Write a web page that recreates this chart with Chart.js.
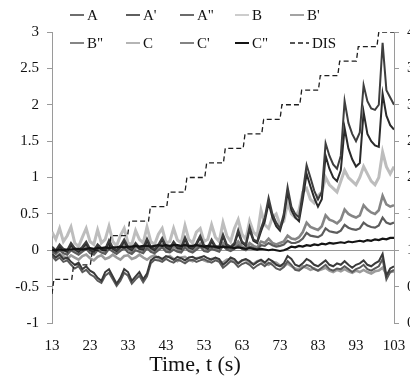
<!DOCTYPE html>
<html>
<head>
<meta charset="utf-8">
<script src="https://cdn.jsdelivr.net/npm/chart.js@4.4.0/dist/chart.umd.min.js"></script>
<style>
  html, body { margin: 0; padding: 0; background: #fff; overflow: hidden; }
  #wrap { position: relative; width: 440px; height: 380px; }
</style>
</head>
<body>
<div id="wrap"><canvas id="strainChart" width="440" height="380"></canvas></div>
<script>
// sample times (s)
const timeSec = [
  13, 14, 15, 16, 17, 18, 19, 20, 21, 22, 23, 24, 25, 26, 27, 28, 29, 30, 31, 32,
  33, 34, 35, 36, 37, 38, 39, 40, 41, 42, 43, 44, 45, 46, 47, 48, 49, 50, 51, 52,
  53, 54, 55, 56, 57, 58, 59, 60, 61, 62, 63, 64, 65, 66, 67, 68, 69, 70, 71, 72,
  73, 74, 75, 76, 77, 78, 79, 80, 81, 82, 83, 84, 85, 86, 87, 88, 89, 90, 91, 92,
  93, 94, 95, 96, 97, 98, 99, 100, 101, 102, 103
];
const timeTicks = [13, 23, 33, 43, 53, 63, 73, 83, 93, 103];

const seriesA = [
  0.05, 0.0, 0.08, 0.02, 0.0, 0.1, 0.03, 0.0, 0.05, 0.12, 0.02, 0.0, 0.08, 0.03, 0.02, 0.14, 0.04, 0.0, 0.06, 0.15,
  0.05, 0.02, 0.1, 0.04, 0.03, 0.16, 0.05, 0.02, 0.08, 0.17, 0.06, 0.03, 0.12, 0.05, 0.04, 0.18, 0.06, 0.03, 0.1, 0.2,
  0.07, 0.04, 0.15, 0.06, 0.05, 0.22, 0.08, 0.05, 0.1, 0.28, 0.12, 0.08, 0.32, 0.15, 0.12, 0.3, 0.45, 0.72, 0.5, 0.38,
  0.3, 0.5, 0.87, 0.6, 0.5, 0.45, 0.8, 1.17, 1.0, 0.82, 0.7, 0.8, 1.47, 1.3, 1.18, 1.12, 1.3, 2.05, 1.75, 1.6,
  1.5, 1.62, 2.27, 2.05, 1.95, 1.93, 2.0, 2.85, 2.2, 2.1, 2.0
];
const seriesA1 = [
  0.02, -0.02, 0.05, 0.0, -0.02, 0.07, 0.01, -0.02, 0.03, 0.09, 0.0, -0.02, 0.06, 0.01, 0.0, 0.11, 0.02, -0.01, 0.04, 0.12,
  0.03, 0.0, 0.08, 0.02, 0.01, 0.13, 0.03, 0.0, 0.06, 0.14, 0.04, 0.01, 0.1, 0.03, 0.02, 0.15, 0.04, 0.02, 0.08, 0.17,
  0.05, 0.02, 0.12, 0.04, 0.03, 0.19, 0.06, 0.04, 0.08, 0.24, 0.1, 0.06, 0.28, 0.13, 0.1, 0.26, 0.4, 0.65, 0.45, 0.33,
  0.27, 0.45, 0.8, 0.55, 0.45, 0.4, 0.7, 1.05, 0.88, 0.72, 0.6, 0.7, 1.3, 1.12, 1.0, 0.95, 1.1, 1.68, 1.4, 1.25,
  1.15, 1.2, 1.9, 1.6, 1.5, 1.44, 1.42, 2.15, 1.85, 1.72, 1.66
];
const seriesA2 = [
  -0.05, -0.1, -0.06, -0.12, -0.1, -0.16, -0.2, -0.17, -0.26, -0.22, -0.28, -0.31, -0.38, -0.42, -0.3, -0.26, -0.36, -0.46, -0.38, -0.26,
  -0.3, -0.42, -0.36, -0.3, -0.4, -0.32, -0.14, -0.1, -0.09, -0.12, -0.08, -0.1, -0.13, -0.09, -0.11, -0.14, -0.1, -0.09, -0.12, -0.1,
  -0.08, -0.11, -0.13, -0.1, -0.12, -0.2, -0.16, -0.1, -0.12, -0.18, -0.14, -0.12, -0.15, -0.2, -0.16, -0.13, -0.17, -0.12, -0.15, -0.2,
  -0.22, -0.18, -0.08, -0.12, -0.2, -0.22, -0.18, -0.12, -0.15, -0.2, -0.22, -0.18, -0.14, -0.2, -0.22, -0.18, -0.2, -0.15, -0.2, -0.24,
  -0.2, -0.18, -0.14, -0.2, -0.22, -0.18, -0.15, -0.05, -0.35, -0.25, -0.22
];
const seriesB = [
  0.25, 0.15, 0.3, 0.12, 0.2, 0.32, 0.1, 0.05, 0.18, 0.3, 0.12, 0.08, 0.28, 0.1, 0.15, 0.33, 0.12, 0.06, 0.2, 0.3,
  0.1, 0.08, 0.27, 0.15, 0.1, 0.32, 0.12, 0.08, 0.22, 0.3, 0.1, 0.12, 0.3, 0.14, 0.1, 0.34, 0.15, 0.1, 0.25, 0.3,
  0.12, 0.15, 0.35, 0.18, 0.12, 0.38, 0.2, 0.12, 0.3, 0.42, 0.22, 0.15, 0.4, 0.25, 0.2, 0.55, 0.35, 0.3, 0.45, 0.5,
  0.35, 0.4, 0.65, 0.5, 0.45, 0.55, 0.8, 0.85, 0.7, 0.65, 0.75, 0.8, 1.0, 0.9, 0.85, 0.8, 0.95, 1.1, 1.0, 0.95,
  0.9, 1.0, 1.15, 1.05, 0.95, 0.9, 1.0, 1.35, 1.15, 1.05, 1.15
];
const seriesB1 = [
  0.0, -0.03, 0.04, 0.0, -0.02, 0.05, 0.01, -0.03, 0.02, 0.06, 0.0, -0.03, 0.04, 0.01, -0.02, 0.06, 0.02, -0.02, 0.03, 0.07,
  0.01, -0.02, 0.05, 0.02, -0.01, 0.07, 0.02, -0.01, 0.03, 0.08, 0.02, 0.0, 0.05, 0.02, 0.0, 0.08, 0.03, 0.0, 0.04, 0.09,
  0.03, 0.01, 0.06, 0.03, 0.01, 0.1, 0.04, 0.02, 0.05, 0.12, 0.05, 0.03, 0.1, 0.06, 0.04, 0.12, 0.1, 0.16, 0.1, 0.08,
  0.1, 0.12, 0.2, 0.16, 0.15, 0.18, 0.25, 0.38, 0.32, 0.3, 0.28, 0.33, 0.48, 0.42, 0.4, 0.37, 0.42, 0.56, 0.5, 0.47,
  0.45, 0.48, 0.62, 0.56, 0.52, 0.5, 0.55, 0.75, 0.63, 0.6, 0.62
];
const seriesB2 = [
  -0.02, -0.05, 0.0, -0.04, -0.06, 0.0, -0.03, -0.06, -0.02, 0.02, -0.04, -0.06, 0.0, -0.03, -0.05, 0.02, -0.02, -0.05, -0.01, 0.03,
  -0.03, -0.05, 0.0, -0.02, -0.04, 0.03, -0.02, -0.04, 0.0, 0.04, -0.02, -0.03, 0.01, -0.02, -0.03, 0.04, -0.01, -0.03, 0.01, 0.05,
  -0.01, -0.02, 0.02, 0.0, -0.02, 0.06, 0.01, -0.01, 0.02, 0.07, 0.02, 0.0, 0.05, 0.03, 0.01, 0.07, 0.06, 0.1, 0.07, 0.05,
  0.06, 0.08, 0.13, 0.1, 0.1, 0.12, 0.16, 0.24, 0.2, 0.19, 0.18, 0.21, 0.3, 0.26, 0.25, 0.24, 0.27, 0.35, 0.31, 0.29,
  0.28, 0.3, 0.38, 0.34, 0.32, 0.31, 0.34, 0.45, 0.38, 0.36, 0.38
];
const seriesC = [
  -0.06, -0.1, -0.05, -0.08, -0.12, -0.07, -0.1, -0.13, -0.08, -0.06, -0.11, -0.14, -0.09, -0.07, -0.12, -0.1, -0.06, -0.1, -0.13, -0.08,
  -0.07, -0.12, -0.1, -0.06, -0.1, -0.13, -0.09, -0.07, -0.11, -0.14, -0.1, -0.08, -0.12, -0.15, -0.1, -0.09, -0.13, -0.15, -0.11, -0.1,
  -0.14, -0.16, -0.12, -0.11, -0.15, -0.17, -0.13, -0.12, -0.16, -0.18, -0.14, -0.13, -0.17, -0.19, -0.15, -0.14, -0.18, -0.2, -0.16, -0.17,
  -0.21, -0.22, -0.18, -0.22, -0.25, -0.26, -0.22, -0.24, -0.27, -0.25, -0.28, -0.26, -0.24, -0.28, -0.3, -0.27, -0.29, -0.26, -0.29, -0.31,
  -0.28, -0.3, -0.27, -0.3, -0.32, -0.29, -0.28, -0.24, -0.33, -0.3, -0.29
];
const seriesC1 = [
  -0.08, -0.14, -0.1, -0.16, -0.14, -0.2, -0.25, -0.22, -0.3, -0.27, -0.33, -0.36, -0.42, -0.45, -0.35, -0.31, -0.4, -0.49, -0.42, -0.31,
  -0.35, -0.46, -0.4, -0.35, -0.44, -0.36, -0.18, -0.13, -0.14, -0.16, -0.12, -0.15, -0.17, -0.13, -0.15, -0.18, -0.14, -0.13, -0.16, -0.14,
  -0.12, -0.15, -0.17, -0.14, -0.16, -0.24, -0.2, -0.15, -0.17, -0.23, -0.19, -0.17, -0.2, -0.25, -0.21, -0.18, -0.22, -0.17, -0.2, -0.25,
  -0.27, -0.23, -0.15, -0.2, -0.27, -0.28, -0.24, -0.2, -0.22, -0.26, -0.28, -0.24, -0.2, -0.26, -0.28, -0.25, -0.26, -0.22, -0.26, -0.3,
  -0.26, -0.24, -0.2, -0.26, -0.28, -0.25, -0.22, -0.12, -0.4, -0.3, -0.27
];
const seriesC2 = [
  0.0, 0.0, 0.01, 0.0, 0.01, 0.01, 0.02, 0.02, 0.01, 0.02, 0.03, 0.02, 0.03, 0.03, 0.04, 0.03, 0.04, 0.04, 0.05, 0.04,
  0.05, 0.05, 0.06, 0.05, 0.06, 0.06, 0.05, 0.06, 0.07, 0.06, 0.07, 0.06, 0.07, 0.07, 0.06, 0.07, 0.06, 0.06, 0.07, 0.06,
  0.05, 0.06, 0.05, 0.05, 0.04, 0.05, 0.04, 0.04, 0.03, 0.04, 0.03, 0.02, 0.03, 0.02, 0.01, 0.02, 0.01, 0.0, 0.01, 0.0,
  -0.01, 0.0, 0.02, 0.05, 0.04, 0.06, 0.05, 0.07, 0.06, 0.08, 0.07, 0.09, 0.08, 0.1, 0.09, 0.1, 0.11, 0.1, 0.12, 0.11,
  0.12, 0.13, 0.12, 0.14, 0.13, 0.15, 0.14, 0.16, 0.15, 0.17, 0.17
];

// displacement steps (right axis): riser start times and plateau levels
const disRiseStart = [13.0, 18.2, 23.1, 28.0, 32.9, 38.4, 43.2, 48.0, 53.2, 58.1, 63.3, 68.2, 73.0, 78.2, 83.1, 88.2, 93.1, 98.5];
const disLevels = [0.4, 0.6, 0.8, 1.0, 1.2, 1.4, 1.6, 1.8, 2.0, 2.2, 2.4, 2.6, 2.8, 3.0, 3.2, 3.4, 3.6, 3.8, 4.0];

const serifFont = '"Liberation Serif", "Times New Roman", serif';

function toPoints(values) {
    return values.map((v, i) => ({ x: timeSec[i], y: v }));
}

function disPoints() {
    const pts = [];
    disRiseStart.forEach((t, i) => {
        pts.push({ x: t, y: disLevels[i] });
        pts.push({ x: t + 0.5, y: disLevels[i + 1] });
    });
    pts.push({ x: 103, y: disLevels[disLevels.length - 1] });
    return pts;
}

function line(label, values, color, width, order) {
    return {
        label: label,
        data: toPoints(values),
        borderColor: color,
        backgroundColor: color,
        borderWidth: width,
        pointRadius: 0,
        tension: 0,
        yAxisID: 'y',
        order: order
    };
}

const datasets = [
    line('A', seriesA, '#3e3e3e', 2, 1),
    line("A'", seriesA1, '#2a2a2a', 2, 1),
    line('A"', seriesA2, '#3a3a3a', 2, 2),
    line('B', seriesB, '#bdbdbd', 3, 6),
    line("B'", seriesB1, '#858585', 2.6, 5),
    line('B"', seriesB2, '#5c5c5c', 2.2, 4),
    line('C', seriesC, '#9c9c9c', 2.6, 5),
    line("C'", seriesC1, '#5a5a5a', 2, 3),
    line('C"', seriesC2, '#141414', 2.2, 0),
    {
        label: 'DIS',
        data: disPoints(),
        borderColor: '#1e1e1e',
        borderWidth: 1.3,
        borderDash: [5, 3],
        pointRadius: 0,
        tension: 0,
        yAxisID: 'y2',
        order: 0
    }
];

// two-row legend and the axis title, drawn straight onto the canvas
const legendCols = [70, 126, 180, 235, 290];
const legendRows = [15, 43];

const overlayPlugin = {
    id: 'overlay',
    afterDraw(chart) {
        const ctx = chart.ctx;
        ctx.save();
        ctx.font = '15px ' + serifFont;
        ctx.fillStyle = '#111';
        ctx.textBaseline = 'middle';
        chart.data.datasets.forEach((ds, i) => {
            const x = legendCols[i % 5];
            const y = legendRows[Math.floor(i / 5)];
            const len = ds.borderDash ? 19 : 14;
            ctx.beginPath();
            ctx.strokeStyle = ds.borderColor;
            ctx.lineWidth = ds.label === 'C"' ? 2 : 1.5;
            ctx.setLineDash(ds.borderDash || []);
            ctx.moveTo(x, y);
            ctx.lineTo(x + len, y);
            ctx.stroke();
            ctx.setLineDash([]);
            ctx.fillText(ds.label, x + len + 3, y + 1);
        });
        ctx.font = '22px ' + serifFont;
        ctx.textAlign = 'center';
        ctx.fillText('Time, t (s)', 195, 365);
        ctx.restore();
    }
};

new Chart(document.getElementById('strainChart'), {
    type: 'line',
    data: { datasets: datasets },
    options: {
        responsive: false,
        animation: false,
        layout: { padding: { top: 32, left: 0, right: 0, bottom: 0 } },
        plugins: { legend: { display: false }, tooltip: { enabled: false } },
        scales: {
            x: {
                type: 'linear',
                min: 13,
                max: 103,
                afterBuildTicks: s => { s.ticks = timeTicks.map(v => ({ value: v })); },
                afterFit: s => { s.height = 57; },
                ticks: { font: { family: serifFont, size: 15 }, color: '#111', padding: 6, maxRotation: 0, autoSkip: false },
                grid: { display: false },
                border: { display: false }
            },
            y: {
                min: -1,
                max: 3,
                afterFit: s => { s.width = 52; },
                ticks: { stepSize: 0.5, font: { family: serifFont, size: 15 }, color: '#111', padding: 8, callback: v => String(v) },
                grid: {
                    color: c => (c.tick && c.tick.value === 0 ? '#9a9a9a' : 'rgba(0,0,0,0)'),
                    tickColor: '#9a9a9a',
                    tickLength: 5
                },
                border: { color: '#9a9a9a' }
            },
            y2: {
                position: 'right',
                min: 0,
                max: 4,
                afterFit: s => { s.width = 46; },
                ticks: { stepSize: 0.5, font: { family: serifFont, size: 15 }, color: '#111', padding: 8, callback: v => String(v) },
                grid: { drawOnChartArea: false, tickColor: '#9a9a9a', tickLength: 5 },
                border: { color: '#9a9a9a' }
            }
        }
    },
    plugins: [overlayPlugin]
});
</script>
</body>
</html>
